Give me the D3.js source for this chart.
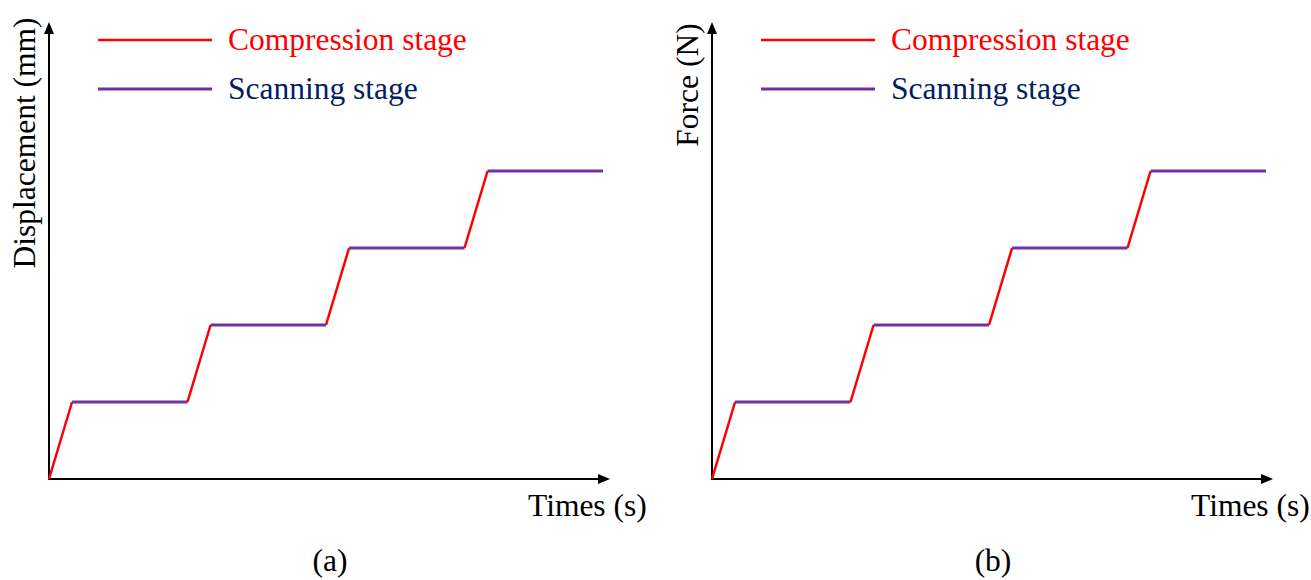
<!DOCTYPE html>
<html>
<head>
<meta charset="utf-8">
<script src="https://cdn.jsdelivr.net/npm/d3@7/dist/d3.min.js"></script>
<style>
  html, body { margin: 0; padding: 0; background: #fff; }
  svg { display: block; font-family: "Liberation Serif", "Times New Roman", serif; }
</style>
</head>
<body>
<svg id="chart" width="1311" height="580"></svg>
<script>
// Loading profile: alternating compression ramps and scanning holds
const times  = [0, 1, 6, 7, 12, 13, 18, 19, 24];
const levels = [0, 1, 1, 2, 2, 3, 3, 4, 4];
const segmentStages = ["Compression", "Scanning", "Compression", "Scanning",
                       "Compression", "Scanning", "Compression", "Scanning"];

const stageNames  = ["Compression", "Scanning"];
const legendLabels = ["Compression stage", "Scanning stage"];
const panelTags   = ["(a)", "(b)"];
const yLabels     = ["Displacement (mm)", "Force (N)"];
const xLabel      = "Times (s)";

const lineColor = { Compression: "#ff0000", Scanning: "#7030a0" };
const lineWidth = { Compression: 2.5, Scanning: 3 };
const textColor = { Compression: "#ff0000", Scanning: "#002060" };

const svg = d3.select("#chart");

const W = 554, H = 308, baseY = 479;
const origins = [49, 712];
const FS = 31.5;

function arrowHead(g, x, y, dir) {
  const L = 12, hw = 5;
  const pts = dir === "right"
    ? [[x, y], [x - L, y - hw], [x - L, y + hw]]
    : [[x, y], [x - hw, y + L], [x + hw, y + L]];
  g.append("path").attr("d", d3.line()(pts) + "Z").attr("fill", "#000");
}

origins.forEach((ox, p) => {
  const g = svg.append("g");
  const x = d3.scaleLinear().domain([0, 24]).range([ox, ox + W]);
  const y = d3.scaleLinear().domain([0, 4]).range([baseY, baseY - H]);

  // axes with arrowheads
  const xEnd = ox + 561, yTop = 22;
  g.append("line").attr("x1", ox).attr("y1", baseY).attr("x2", xEnd - 8).attr("y2", baseY)
    .attr("stroke", "#000").attr("stroke-width", 2);
  g.append("line").attr("x1", ox).attr("y1", baseY + 1).attr("x2", ox).attr("y2", yTop + 8)
    .attr("stroke", "#000").attr("stroke-width", 2);
  arrowHead(g, xEnd, baseY, "right");
  arrowHead(g, ox, yTop, "up");

  // profile segments
  const segs = segmentStages.map((s, i) => ({
    stage: s,
    pts: [[times[i], levels[i]], [times[i + 1], levels[i + 1]]]
  }));
  const line = d3.line().x(d => x(d[0])).y(d => y(d[1]));
  g.selectAll("path.seg").data(segs).enter().append("path")
    .attr("class", "seg")
    .attr("d", d => line(d.pts))
    .attr("fill", "none")
    .attr("stroke", d => lineColor[d.stage])
    .attr("stroke-width", d => lineWidth[d.stage])
    .attr("stroke-linecap", "butt")
    .attr("stroke-linejoin", "round");

  // legend
  const lx = ox + 49;
  stageNames.forEach((s, i) => {
    const ly = 40 + i * 49;
    g.append("line").attr("x1", lx).attr("x2", lx + 114).attr("y1", ly).attr("y2", ly)
      .attr("stroke", lineColor[s]).attr("stroke-width", lineWidth[s]);
    g.append("text").attr("x", lx + 130).attr("y", ly + 10)
      .attr("font-size", FS).attr("fill", textColor[s]).text(legendLabels[i]);
  });

  // axis titles
  g.append("text").attr("x", ox + 479).attr("y", 516)
    .attr("font-size", FS).attr("fill", "#000").text(xLabel);
  const yc = p === 0 ? 143 : 85;
  g.append("text")
    .attr("transform", `translate(${ox - 14},${yc}) rotate(-90)`)
    .attr("text-anchor", "middle")
    .attr("font-size", FS).attr("fill", "#000").text(yLabels[p]);

  // panel tag
  g.append("text").attr("x", ox + 281).attr("y", 571)
    .attr("text-anchor", "middle").attr("font-size", FS).attr("fill", "#000").text(panelTags[p]);
});
</script>
</body>
</html>
